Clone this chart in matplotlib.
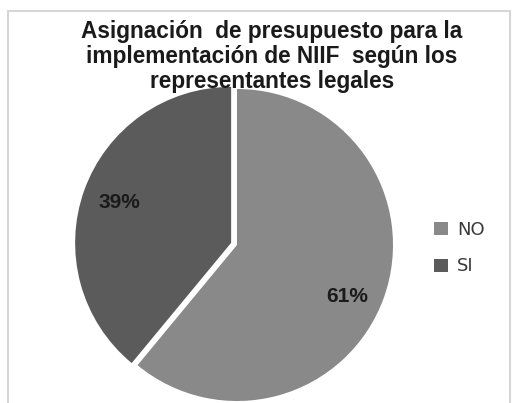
import matplotlib
matplotlib.use("Agg")
import numpy as np
from matplotlib import pyplot as plt
from matplotlib.patches import Rectangle

labels = ["NO", "SI"]
values = [61, 39]
colors = ["#898989", "#5b5b5b"]
explode = [0, 0.04]
title = "Asignación  de presupuesto para la\nimplementación de NIIF  según los\nrepresentantes legales"

W, H = 514, 403
fig = plt.figure(figsize=(W / 100, H / 100), dpi=100)
fig.patch.set_facecolor("white")

# light frame of the original chart area (bottom runs off the image)
frame = Rectangle((8 / W, -0.05), 502 / W, 1 - 11 / H + 0.05, transform=fig.transFigure,
                  fill=False, edgecolor="#d6d6d6", lw=1.5)
fig.patches.append(frame)

cx, cy, r = 237, 245, 156
ax = fig.add_axes([(cx - r) / W, (H - cy - r) / H, 2 * r / W, 2 * r / H])
wedges, texts, autotexts = ax.pie(values, colors=colors, explode=explode, startangle=90,
                                  counterclock=False, autopct="%d%%", pctdistance=0.76,
                                  wedgeprops=dict(edgecolor="white", linewidth=0),
                                  textprops=dict(fontsize=15, fontweight="bold", color="#1a1a1a",
                                                 family="Liberation Sans"))
# the original places the big slice label a little lower than mid-angle
ang = np.deg2rad(-25)
autotexts[0].set_position((0.78 * np.cos(ang), 0.78 * np.sin(ang)))
ax.set_xlim(-1, 1)
ax.set_ylim(-1, 1)
ax.set_aspect("equal")

fig.text(272 / W, 1 - 20 / H, title, ha="center", va="top", fontsize=16.3, fontweight="bold",
         family="Liberation Sans", color="#1a1a1a", linespacing=1.12)

leg = fig.legend(wedges, labels, loc="center left", bbox_to_anchor=(418 / W, 1 - 248 / H),
                 frameon=False, handlelength=0.75, handleheight=0.75, handletextpad=0.5,
                 labelspacing=1.05, prop=dict(family="DejaVu Sans", size=13))
for t in leg.get_texts():
    t.set_color("#3a3a3a")

plt.savefig("out.png", dpi=100)
